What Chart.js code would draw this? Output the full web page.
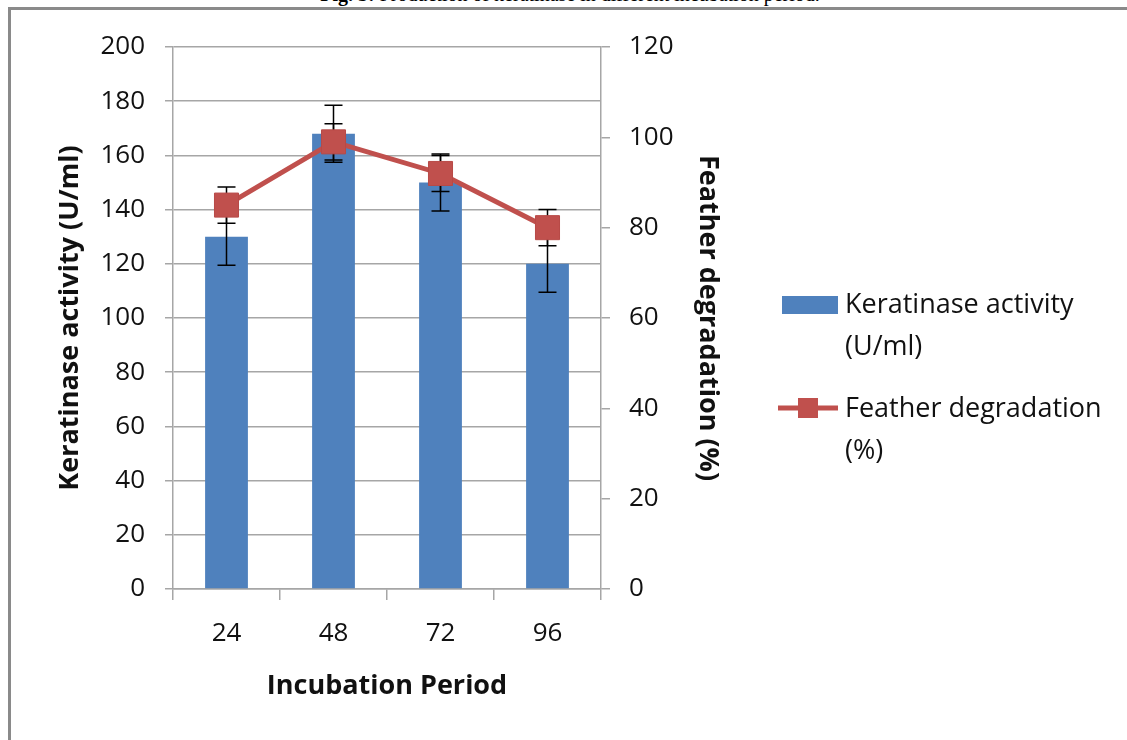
<!DOCTYPE html>
<html>
<head>
<meta charset="utf-8">
<script src="https://cdn.jsdelivr.net/npm/chart.js@4.4.0/dist/chart.umd.min.js"></script>
<style>
  body { margin: 0; background: #fff; }
  #wrap { position: relative; width: 1127px; height: 740px; overflow: hidden; }
  #frame { position: absolute; left: 8px; top: 7px; width: 1200px; height: 800px;
           border-top: 3px solid #8a8a8a; border-left: 3px solid #8a8a8a; }
  #fig { position: absolute; left: 0; top: -16px; width: 1140px; text-align: center;
         font: 20px/20px "Liberation Serif", serif; color: #000; }
  #chart { position: absolute; left: 0; top: 0; }
</style>
</head>
<body>
<div id="wrap">
  <div id="fig"><b>Fig. 3:</b> Production of keratinase in different incubation period.</div>
  <div id="frame"></div>
  <canvas id="chart" width="1127" height="740"></canvas>
</div>
<script>
const periods = ['24', '48', '72', '96'];
const keratinase = [130, 168, 150, 120];
const keratinaseErr = [10.5, 10.5, 10.5, 10.5];
const feather = [85, 99, 92, 80];
const featherErr = [4, 4, 4, 4];

const blue = '#4F81BD';
const red = '#C0504D';
const gridGray = '#a6a6a6';
const font = 'Open Sans';

// error bars go under the line so the markers cover them
const errorBars = {
    id: 'errorBars',
    beforeDatasetDraw(chart, args) {
        if (args.index !== 0) return;
        const ctx = chart.ctx;
        const x = chart.scales.x;
        const sets = [
            { vals: keratinase, errs: keratinaseErr, scale: chart.scales.y },
            { vals: feather, errs: featherErr, scale: chart.scales.y1 },
        ];
        ctx.save();
        ctx.strokeStyle = '#000';
        ctx.lineWidth = 1.5;
        sets.forEach(s => {
            s.vals.forEach((v, i) => {
                const px = x.getPixelForValue(i);
                const top = s.scale.getPixelForValue(v + s.errs[i]);
                const bot = s.scale.getPixelForValue(v - s.errs[i]);
                ctx.beginPath();
                ctx.moveTo(px, top); ctx.lineTo(px, bot);
                ctx.moveTo(px - 9, top); ctx.lineTo(px + 9, top);
                ctx.moveTo(px - 9, bot); ctx.lineTo(px + 9, bot);
                ctx.stroke();
            });
        });
        ctx.restore();
    }
};

const sideLegend = {
    id: 'sideLegend',
    afterDraw(chart) {
        const ctx = chart.ctx;
        const bar = chart.data.datasets[1];
        const line = chart.data.datasets[0];
        ctx.save();
        ctx.font = '27px ' + font;
        ctx.textBaseline = 'middle';

        ctx.fillStyle = bar.backgroundColor;
        ctx.fillRect(782, 296, 56, 18);
        ctx.fillStyle = '#111';
        bar.label.replace(' (', '\n(').split('\n').forEach((t, k) => ctx.fillText(t, 845, 305 + k * 42));

        ctx.strokeStyle = line.borderColor;
        ctx.lineWidth = 5;
        ctx.beginPath(); ctx.moveTo(778, 408); ctx.lineTo(838, 408); ctx.stroke();
        ctx.fillStyle = line.pointBackgroundColor;
        ctx.fillRect(798, 398, 20, 20);
        ctx.fillStyle = '#111';
        line.label.replace(' (', '\n(').split('\n').forEach((t, k) => ctx.fillText(t, 845, 409 + k * 42));
        ctx.restore();
    }
};

const tickFont = { family: font, size: 26 };
const titleFont = { family: font, size: 27, weight: 'bold', lineHeight: 1.2 };

new Chart(document.getElementById('chart'), {
    type: 'bar',
    data: {
        labels: periods,
        datasets: [{
            type: 'line',
            label: 'Feather degradation (%)',
            data: feather,
            yAxisID: 'y1',
            borderColor: red,
            borderWidth: 5,
            pointStyle: 'rect',
            pointRadius: 17,
            pointBackgroundColor: red,
            pointBorderColor: '#b84a47',
            pointBorderWidth: 1,
            order: 0,
        }, {
            label: 'Keratinase activity (U/ml)',
            data: keratinase,
            yAxisID: 'y',
            backgroundColor: blue,
            barPercentage: 0.8,
            categoryPercentage: 0.5,
            order: 1,
        }]
    },
    options: {
        responsive: false,
        animation: false,
        layout: { padding: { top: 47, right: 346, bottom: 0, left: 0 } },
        plugins: {
            legend: { display: false },
            tooltip: { enabled: false },
        },
        scales: {
            x: {
                grid: {
                    display: true,
                    drawOnChartArea: false,
                    color: gridGray,
                    tickLength: 11,
                    lineWidth: 1.5,
                },
                border: { display: true, color: gridGray, width: 1.5 },
                ticks: { color: '#111', font: tickFont, padding: 18 },
                title: {
                    display: true,
                    text: 'Incubation Period',
                    color: '#111',
                    font: titleFont,
                    padding: { top: 0, bottom: 37 },
                },
                afterFit: s => { s.height = 151; },
            },
            y: {
                position: 'left',
                min: 0,
                max: 200,
                ticks: { stepSize: 20, color: '#111', font: tickFont, padding: 20 },
                grid: { color: gridGray, tickLength: 8, lineWidth: 1.5 },
                border: { display: true, color: gridGray, width: 1.5 },
                title: {
                    display: true,
                    text: 'Keratinase activity (U/ml)',
                    color: '#111',
                    font: titleFont,
                    padding: { top: 54, bottom: 0 },
                },
                afterFit: s => { s.width = 173; },
            },
            y1: {
                position: 'right',
                min: 0,
                max: 120,
                ticks: { stepSize: 20, color: '#111', font: tickFont, padding: 19 },
                grid: { drawOnChartArea: false, color: gridGray, tickLength: 9, lineWidth: 1.5 },
                border: { display: true, color: gridGray, width: 1.5 },
                title: {
                    display: true,
                    text: 'Feather degradation (%)',
                    color: '#111',
                    font: titleFont,
                    padding: { top: 57, bottom: 0 },
                },
                afterFit: s => { s.width = 180; },
            }
        }
    },
    plugins: [errorBars, sideLegend]
});
</script>
</body>
</html>
